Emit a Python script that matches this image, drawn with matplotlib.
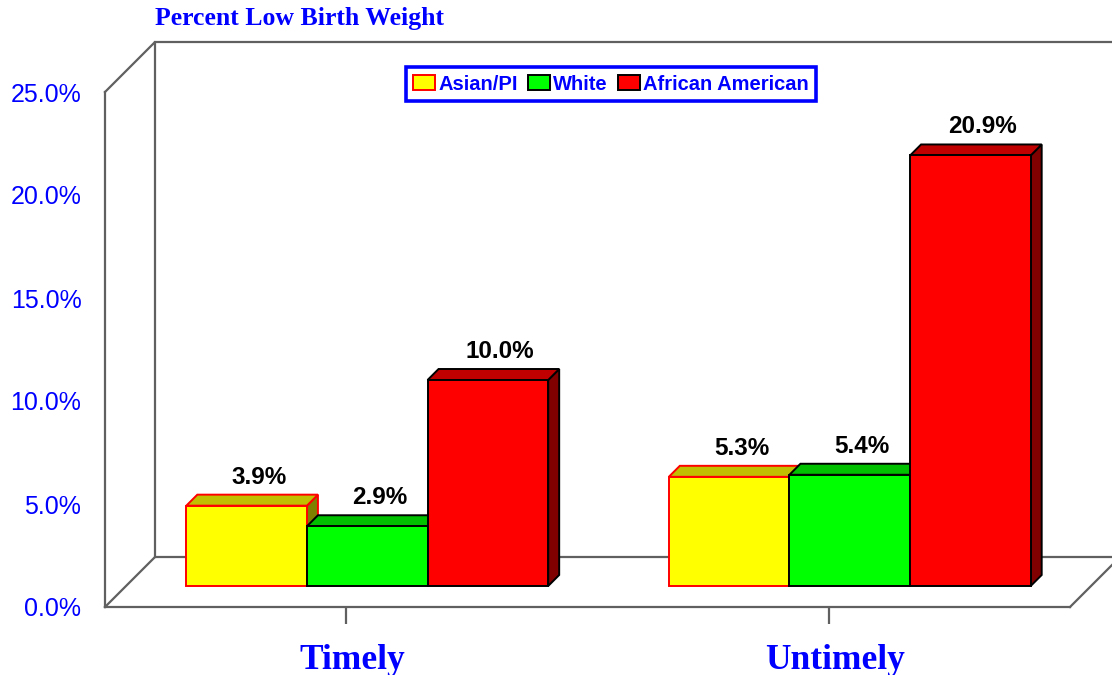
import numpy as np
import matplotlib.pyplot as plt
import matplotlib.transforms as mtransforms
from matplotlib.patches import Polygon, Patch

# data
categories = ['Timely', 'Untimely']
groups = ['Asian/PI', 'White', 'African American']
asian = [3.9, 5.3]
white = [2.9, 5.4]
african = [10.0, 20.9]
yticks = [0, 5, 10, 15, 20, 25]

face = ['#FFFF00', '#00FF00', '#FF0000']
top_c = ['#C0C000', '#00C000', '#C00000']
side_c = ['#808000', '#008000', '#800000']
edge = ['#FF0000', '#000000', '#000000']
blue = '#0000FF'
grey = '#606060'

fig = plt.figure(figsize=(11.12, 6.75), dpi=100)
ax = fig.add_axes([105 / 1112, 68 / 675, 965 / 1112, 515 / 675])
ax.set_xlim(0, 2)
ax.set_ylim(0, 25)

# depth of the box in data units
DX = 50 / 482.5
DY = 50 / 20.6
f0, f1 = 0.42, 0.64   # front / back of the bars as a share of the depth

# walls and floor
kw = dict(color=grey, lw=1.6, clip_on=False, zorder=1)
ax.plot([0, DX, DX], [25, 25 + DY, DY], **kw)
ax.plot([DX, 2.2], [25 + DY, 25 + DY], **kw)
ax.plot([0, DX, 2.2], [0, DY, DY], **kw)
ax.plot([2, 2 + DX], [0, DY], **kw)

xpos = np.arange(len(categories)) + 0.5
w = 0.25
series = [asian, white, african]
z = 2
for gi, xc in enumerate(xpos):
    for si, vals in enumerate(series):
        v = vals[gi]
        x0 = xc + (si - 1.5) * w + f0 * DX
        x1 = x0 + w
        b0 = f0 * DY
        ddx = (f1 - f0) * DX
        ddy = (f1 - f0) * DY
        side = Polygon([(x1, b0), (x1, b0 + v), (x1 + ddx, b0 + v + ddy), (x1 + ddx, b0 + ddy)],
                       closed=True, fc=side_c[si], ec=edge[si], lw=1.4, zorder=z, clip_on=False)
        top = Polygon([(x0, b0 + v), (x1, b0 + v), (x1 + ddx, b0 + v + ddy), (x0 + ddx, b0 + v + ddy)],
                      closed=True, fc=top_c[si], ec=edge[si], lw=1.4, zorder=z, clip_on=False)
        ax.add_patch(side)
        ax.add_patch(top)
        ax.bar(x0, v, width=w, bottom=b0, align='edge', color=face[si],
               edgecolor=edge[si], linewidth=1.4, zorder=z + 0.5, clip_on=False)
        ax.annotate(f'{v:.1f}%', (x0 + w / 2 + ddx, b0 + v + ddy), xytext=(1, 8),
                    textcoords='offset points', ha='center', va='baseline',
                    fontsize=17.5, fontweight='bold', family='Liberation Sans',
                    color='black', zorder=20)
        z += 1

for s in ['top', 'right']:
    ax.spines[s].set_visible(False)
for s in ['left', 'bottom']:
    ax.spines[s].set_color(grey)
    ax.spines[s].set_linewidth(1.6)

ax.set_yticks(yticks)
ax.set_yticklabels([f'{t:.1f}%' for t in yticks], fontsize=18,
                   family='Liberation Sans', color=blue)
ax.tick_params(axis='y', length=0, pad=17)
ax.set_xticks(xpos)
ax.set_xticklabels(categories, fontsize=25.5, fontweight='bold',
                   family='Liberation Serif', color=blue)
ax.tick_params(axis='x', length=12, width=1.6, color=grey, pad=14.5)
shift = mtransforms.ScaledTranslation(6 / 100, 0, fig.dpi_scale_trans)
for lbl in ax.get_xticklabels():
    lbl.set_transform(lbl.get_transform() + shift)

fig.text(155 / 1112, 1 - 25 / 675, 'Percent Low Birth Weight', fontsize=18.5,
         fontweight='bold', family='Liberation Serif', color=blue, va='baseline')

handles = [Patch(fc=face[i], ec=edge[i], lw=1.4) for i in range(3)]
leg = fig.legend(handles, groups, loc='center', bbox_to_anchor=(611 / 1112, 1 - 84 / 675),
                 ncol=3, frameon=True, fancybox=False, framealpha=1, columnspacing=0.5,
                 handletextpad=0.15, handlelength=1.1, handleheight=0.7,
                 borderpad=0.35, borderaxespad=0,
                 prop={'family': 'Liberation Sans', 'weight': 'bold', 'size': 14.5})
leg.get_frame().set_edgecolor(blue)
leg.get_frame().set_linewidth(2.6)
for t in leg.get_texts():
    t.set_color(blue)

fig.savefig('out.png', dpi=100)
